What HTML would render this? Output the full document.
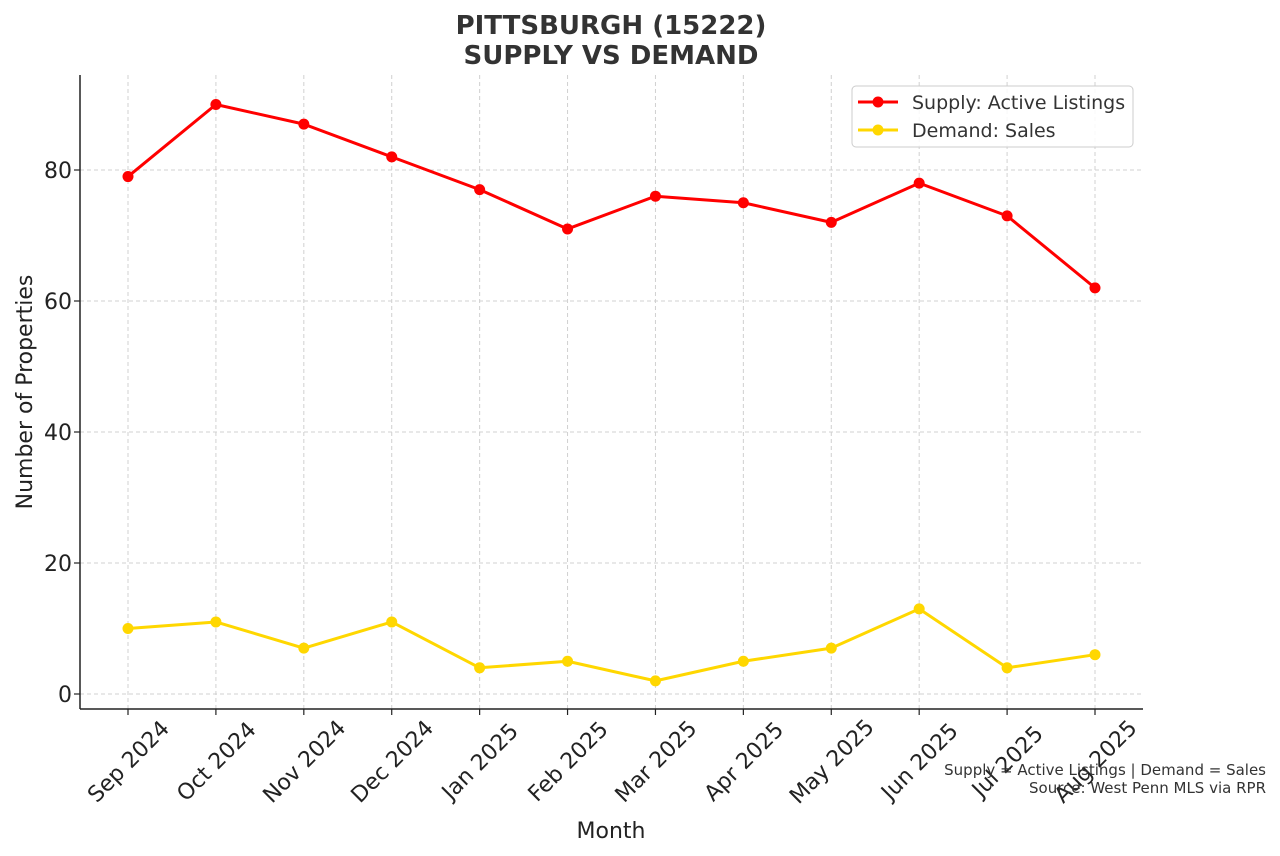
<!DOCTYPE html>
<html><head><meta charset="utf-8"><style>
html,body{margin:0;padding:0;background:#fff;}
svg{display:block;font-family:"DejaVu Sans","Liberation Sans",sans-serif;}
</style></head><body>
<svg id="chart" width="1280" height="856" viewBox="0 0 1280 856">
<text x="611" y="34" text-anchor="middle" font-size="26" font-weight="bold" fill="#333">PITTSBURGH (15222)</text>
<text x="611" y="64" text-anchor="middle" font-size="26" font-weight="bold" fill="#333">SUPPLY VS DEMAND</text>
<g id="grid"></g>
<g id="axes"></g>
<g id="series"></g>
<text x="32" y="392" transform="rotate(-90 32 392)" text-anchor="middle" font-size="22" fill="#222">Number of Properties</text>
<text x="611" y="838" text-anchor="middle" font-size="22" fill="#222">Month</text>
<g>
<rect x="852" y="86" width="281" height="61" rx="4" fill="#fff" fill-opacity="0.85" stroke="#ccc"/>
<g>
<line x1="858" y1="102" x2="898" y2="102" stroke="#ff0000" stroke-width="3"/>
<circle cx="878" cy="102" r="5.5" fill="#ff0000"/>
<text x="912" y="109" font-size="19" fill="#333">Supply: Active Listings</text></g>
<g>
<line x1="858" y1="130" x2="898" y2="130" stroke="#ffd700" stroke-width="3"/>
<circle cx="878" cy="130" r="5.5" fill="#ffd700"/>
<text x="912" y="137" font-size="19" fill="#333">Demand: Sales</text></g>
</g>
<text x="1266" y="775" text-anchor="end" font-size="15" fill="#333">Supply = Active Listings | Demand = Sales</text>
<text x="1266" y="793" text-anchor="end" font-size="15" fill="#333">Source: West Penn MLS via RPR</text>
</svg>
<script>
const months = ["Sep 2024","Oct 2024","Nov 2024","Dec 2024","Jan 2025","Feb 2025","Mar 2025","Apr 2025","May 2025","Jun 2025","Jul 2025","Aug 2025"];
const supplyValues = [79,90,87,82,77,71,76,75,72,78,73,62];
const demandValues = [10,11,7,11,4,5,2,5,7,13,4,6];
const yTicks = [0,20,40,60,80];

const NS="http://www.w3.org/2000/svg";
const L=80,R=1143,T=75,B=709;
const x0=128,x1=1095;
const xs=i=>x0+(x1-x0)*i/(months.length-1);
const ys=v=>694-v*6.55;
function mk(tag,attrs,parent){const e=document.createElementNS(NS,tag);for(const k in attrs)e.setAttribute(k,attrs[k]);parent.appendChild(e);return e;}
const grid=document.getElementById('grid'),axes=document.getElementById('axes'),series=document.getElementById('series');

yTicks.forEach(v=>{
  const y=ys(v);
  const g=mk('line',{x1:L,x2:R,y1:y,y2:y,stroke:'#d0d0d0','stroke-dasharray':'4,3','stroke-width':1},grid);
  
  
  mk('line',{x1:L-6,x2:L,y1:y,y2:y,stroke:'#222','stroke-width':1.2},axes);
  const t=mk('text',{x:L-8,y:y+8,'text-anchor':'end','font-size':22,fill:'#222'},axes);
  t.textContent=v;
  
  
});
months.forEach((m,i)=>{
  const x=xs(i);
  const g=mk('line',{x1:x,x2:x,y1:T,y2:B,stroke:'#d0d0d0','stroke-dasharray':'4,3','stroke-width':1},grid);
  
  
  mk('line',{x1:x,x2:x,y1:B,y2:B+6,stroke:'#222','stroke-width':1.2},axes);
  const cy=B+52;
  const t=mk('text',{x:x,y:cy+8,'text-anchor':'middle','font-size':22,fill:'#222',transform:`rotate(-45 ${x} ${cy})`},axes);
  t.textContent=m;
  
  
});
mk('line',{x1:L,x2:L,y1:T,y2:B,stroke:'#222','stroke-width':1.5},axes);
mk('line',{x1:L,x2:R,y1:B,y2:B,stroke:'#222','stroke-width':1.5},axes);

function drawSeries(vals,color,name){
  const pl=mk('polyline',{points:vals.map((v,i)=>xs(i)+','+ys(v)).join(' '),fill:'none',stroke:color,'stroke-width':3,'stroke-linejoin':'round'},series);
  
  
  vals.forEach((v,i)=>{
    const c=mk('circle',{cx:xs(i),cy:ys(v),r:5.5,fill:color},series);
    
    
  });
}
drawSeries(supplyValues,'#ff0000','supply');
drawSeries(demandValues,'#ffd700','demand');
</script>
</body></html>
